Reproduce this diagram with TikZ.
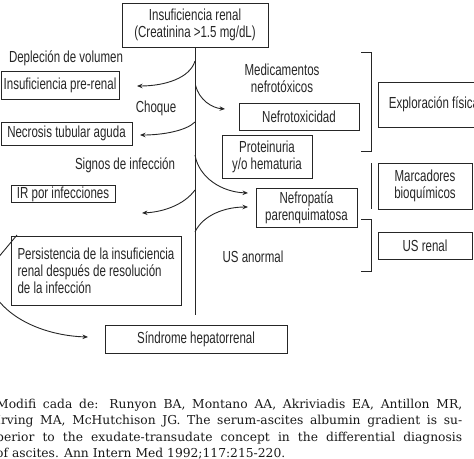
\documentclass[tikz,border=0pt]{standalone}
\usepackage{fontspec}
\setmainfont{Liberation Sans}[FakeStretch=0.72]
\newfontfamily\citefont{DejaVu Serif}
\usetikzlibrary{arrows.meta}
\begin{document}
\begin{tikzpicture}[x=1pt,y=-1pt,
  box/.style={draw=black!85,line width=0.9pt,inner sep=0pt,align=center,font=\fontsize{16}{17}\selectfont,text=black!85},
  lbl/.style={inner sep=0pt,align=center,font=\fontsize{16}{17}\selectfont,text=black!85},
  conn/.style={draw=black!85,line width=0.9pt},
  arr/.style={conn,-{Stealth[length=5.5pt,width=4.5pt]}},
  cite/.style={anchor=base west,inner sep=0pt,font=\citefont\fontsize{12.3}{16}\selectfont,text=black!90}]
\useasboundingbox (0,0) rectangle (474,458);
\clip (0,0) rectangle (474,458);
% boxes
\node[box,minimum width=146pt,minimum height=44pt] (top) at (195,25) {Insuficiencia renal\\(Creatinina >1.5 mg/dL)};
\node[box,minimum width=118pt,minimum height=28pt] (prerenal) at (60,85) {Insuficiencia pre-renal};
\node[box,minimum width=131pt,minimum height=23pt] (necrosis) at (66.5,133.5) {Necrosis tubular aguda};
\node[box,minimum width=104pt,minimum height=17pt] (irinf) at (63,194) {IR por infecciones};
\node[box,align=left,minimum width=170pt,minimum height=69pt] (persist) at (96,270.5) {Persistencia de la insuficiencia\\renal después de resolución\\de la infección};
\node[box,minimum width=182pt,minimum height=28pt] (hepato) at (196,339) {Síndrome hepatorrenal};
\node[box,minimum width=120pt,minimum height=27pt] (nefrotox) at (299,116.5) {Nefrotoxicidad};
\node[box,minimum width=90pt,minimum height=43pt] (protein) at (267,156.5) {Proteinuria\\y/o hematuria};
\node[box,minimum width=101pt,minimum height=39pt] (nefropat) at (306.5,207.5) {Nefropatía\\parenquimatosa};
\node[box,minimum width=112pt,minimum height=45pt] (explor) at (434,104.5) {Exploración física};
\node[box,minimum width=94pt,minimum height=46pt] (marc) at (425,186) {Marcadores\\bioquímicos};
\node[box,minimum width=94pt,minimum height=27pt] (usrenal) at (425,245.5) {US renal};
% labels
\node[lbl] (depl) at (66,58) {Depleción de volumen};
\node[lbl] (choque) at (156,108) {Choque};
\node[lbl] (signos) at (125,165) {Signos de infección};
\node[lbl] (medic) at (282,78) {Medicamentos\\nefrotóxicos};
\node[lbl] (usanor) at (253,257) {US anormal};
% main line
\coordinate (vend) at (195,315);
\draw[conn] (top.south) -- (vend);
% connector coordinates
\coordinate (s1) at (195,61);   \coordinate (e1) at (137,86);
\coordinate (s2) at (195.5,85); \coordinate (e2) at (225,109);
\coordinate (s3) at (195,122);  \coordinate (e3) at (140,135);
\coordinate (s4) at (195,190);  \coordinate (e4) at (142,213);
\coordinate (s5) at (195,155);  \coordinate (e5) at (248,193);
\coordinate (s6) at (195,232);  \coordinate (e6) at (248,207);
\coordinate (s7) at (-5,296);   \coordinate (e7) at (88,337);
\coordinate (s8) at (-3,259);   \coordinate (e8) at (17,235);
\draw[arr] (s1) .. controls (190,78) and (165,86) .. (e1);
\draw[arr] (s2) .. controls (199,100) and (212,108) .. (e2);
\draw[arr] (s3) .. controls (186,131) and (162,135) .. (e3);
\draw[arr] (s4) .. controls (184,205) and (163,212) .. (e4);
\draw[arr] (s5) .. controls (199,178) and (222,192) .. (e5);
\draw[arr] (s6) .. controls (203,215) and (225,207) .. (e6);
\draw[arr] (s7) .. controls (15,325) and (55,336) .. (e7);
\draw[conn] (s8) -- (e8);
% brackets
\coordinate (b1a) at (361,52);  \coordinate (b1b) at (361,151);
\coordinate (b2a) at (371,163); \coordinate (b2b) at (371,209);
\coordinate (b3a) at (361,219); \coordinate (b3b) at (361,271);
\draw[conn] (b1a) -- ++(10,0) |- (b1b);
\draw[conn] (b2a) -- (b2b);
\draw[conn] (b3a) -- ++(10,0) |- (b3b);
% citation
\node[cite] (c1) at (-4,408) {\hbox to 466pt{Modifi cada de: Runyon BA, Montano AA, Akriviadis EA, Antillon MR,}};
\node[cite] (c2) at (-4,424.5) {\hbox to 466pt{Irving MA, McHutchison JG. The serum-ascites albumin gradient is su-}};
\node[cite] (c3) at (-4,441) {\hbox to 466pt{perior to the exudate-transudate concept in the differential diagnosis}};
\node[cite] (c4) at (-4,457.5) {of ascites. Ann Intern Med 1992;117:215-220.};
\end{tikzpicture}
\end{document}
